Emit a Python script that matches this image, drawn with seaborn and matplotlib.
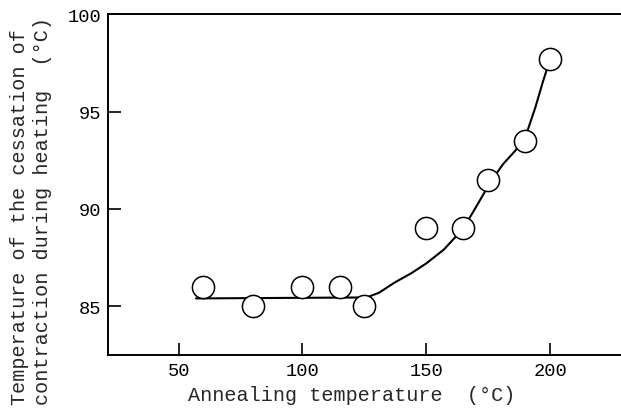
import numpy as np
import pandas as pd
import matplotlib
matplotlib.use('Agg')
import matplotlib.pyplot as plt
import seaborn as sns

# measured points
anneal_temp = [60, 80, 100, 115, 125, 150, 165, 175, 190, 200]
stop_temp   = [86.0, 85.0, 86.0, 86.0, 85.0, 89.0, 89.0, 91.5, 93.5, 97.7]

# hand-drawn trend curve
curve_x = [57, 126, 131, 137, 144, 150, 157, 165, 171, 176, 181, 186, 190, 194, 197, 200]
curve_y = [85.4, 85.45, 85.7, 86.2, 86.7, 87.2, 87.9, 89.0, 90.3, 91.4, 92.3, 93.0, 93.7, 95.2, 96.5, 97.7]

x_ticks = [50, 100, 150, 200]
y_ticks = [85, 90, 95, 100]

sns.set_style('ticks')
plt.rcParams['font.family'] = ['Liberation Mono', 'DejaVu Sans Mono']

points = pd.DataFrame({'x': anneal_temp, 'y': stop_temp})
curve = pd.DataFrame({'x': curve_x, 'y': curve_y})

fig = plt.figure(figsize=(6.21, 4.10), dpi=100)
ax = fig.add_axes([0.174, 0.132, 0.826, 0.831])

sns.lineplot(data=curve, x='x', y='y', ax=ax, color='black', linewidth=1.5,
             sort=False, estimator=None)
sns.scatterplot(data=points, x='x', y='y', ax=ax, s=255, marker='o',
                facecolor='white', edgecolor='black', linewidth=1.1, zorder=3)

ax.set_xlim(21.5, 228.6)
ax.set_ylim(82.5, 100)
ax.set_xticks(x_ticks)
ax.set_yticks(y_ticks)
ax.tick_params(direction='in', length=9, width=1.2, labelsize=13.5, colors='black')
ax.tick_params(axis='y', pad=5)
ax.tick_params(axis='x', pad=5)

for side in ['left', 'bottom', 'top']:
    ax.spines[side].set_linewidth(1.4)
    ax.spines[side].set_color('black')
ax.spines['right'].set_visible(False)

ax.set_xlabel('Annealing temperature  (\u00b0C)', fontsize=14.5, va='center')
ax.xaxis.set_label_coords(0.474, -0.115)
ax.set_ylabel('Temperature of the cessation of\ncontraction during heating  (\u00b0C)',
              fontsize=14.5, linespacing=1.3, va='center', multialignment='left')
ax.yaxis.set_label_coords(-0.15, 0.425)

fig.savefig('out.png', dpi=100)
